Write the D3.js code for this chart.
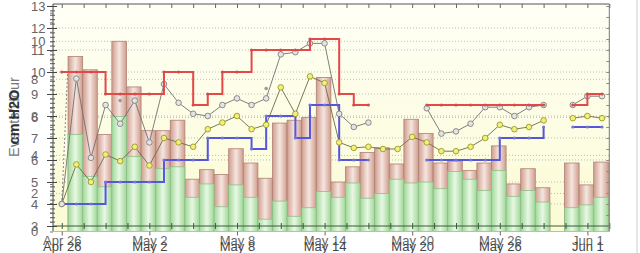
<!DOCTYPE html>
<html><head><meta charset="utf-8">
<script src="https://cdn.jsdelivr.net/npm/d3@7/dist/d3.min.js"></script>
<style>body{margin:0;background:#fff}svg{display:block}</style>
</head><body>
<svg id="c" width="640" height="253"></svg>
<script>
// ---- data (day index 0 = Apr 26) ----
const tickDays   = [0, 6, 12, 18, 24, 30, 36];
const tickLabels = ["Apr 26", "May 2", "May 8", "May 14", "May 20", "May 26", "Jun 1"];

// bars (Events/Hour), days 1..37
const barDays   = [1,2,3,4,5,6,7,8,9,10,11,12,13,14,15,16,17,18,19,20,21,22,23,24,25,26,27,28,29,30,31,32,33,34,35,36,37];
const barTotal  = [9.2,8.5,5.1,10.0,7.6,5.3,5.3,5.85,2.75,3.25,3.0,4.35,3.6,2.8,5.7,5.85,6.0,8.1,2.6,3.4,4.15,4.4,3.55,5.9,5.15,3.6,3.7,3.2,3.6,4.5,2.5,3.3,2.3,null,3.6,2.45,3.65];
const barGreen  = [5.1,2.9,2.35,6.05,3.95,2.6,3.3,3.4,1.8,2.5,1.3,2.45,1.8,0.65,1.6,0.8,1.25,2.1,1.8,2.55,1.75,2.0,2.75,2.55,2.6,2.25,3.15,2.75,2.15,3.2,1.85,2.15,1.55,null,1.25,1.4,1.8];

// lines (cm H2O), days 0..37
const lineDays = d3.range(0, 38);
const redSet   = [10,10,10,9,9,9,9,10,10,8.5,9,10,10,11,11,11,11,11.5,11.5,9,8.5,8.5,null,null,null,8.5,8.5,8.5,8.5,8.5,8.5,8.5,8.5,8.5,null,8.5,9,9];
const blueSet  = [4,4,4,5,5,5,5,6,6,6,7,7,7,6.5,8,8,7,8.5,8.5,6,6,6,null,null,null,6,6,6,6,6,7,7,7,7.5,null,7.5,7.5,7.5];
const grayPt   = [4,9.7,6.1,8.5,7.65,8.7,6.8,9.45,8.6,8.1,8.0,8.5,8.8,8.5,8.8,10.8,10.9,11.3,11.3,8.1,7.5,7.7,null,null,null,8.35,7.2,7.3,7.65,8.4,8.4,8.0,8.4,8.5,null,8.5,8.9,8.9];
const yellowPt = [4,5.8,5.0,6.25,5.95,6.6,5.75,7.0,6.8,6.6,7.4,7.7,8.0,7.4,7.6,9.3,8.1,9.8,9.5,6.8,6.55,6.6,6.5,6.5,7.05,6.8,6.4,6.4,6.6,7.0,7.6,7.4,7.5,7.8,null,7.9,8.0,7.9];
const extraDotDays = [4, 14];
const extraDotVals = [8.7, 9.25];
const rampFrom = [0, 4];     // [day, cmH2O]
const rampTo   = [0.4, 10];

const axisATicks = [3,4,5,6,7,8,9,10,11,12,13];
const axisBTicks = [0,2,4,6,8,10];

// ---- layout ----
const svg = d3.select("#c");
const L = 53, R = 609.3, T = 4, B = 231.5;
const x  = d3.scaleLinear().domain([-0.6, 37.5]).range([L, R]);
const xb = d3.scaleLinear().domain([-0.6, 37.5]).range([L - 1, R - 1]);
const yA = d3.scaleLinear().domain([3, 13.09]).range([226, T]);
const yB = d3.scaleLinear().domain([0, 11.96]).range([B, T]);
const FONT = "Liberation Sans, Arial, sans-serif";

const defs = svg.append("defs");
const bg = defs.append("linearGradient").attr("id","bg").attr("x1",0).attr("y1",0).attr("x2",0).attr("y2",1);
bg.append("stop").attr("offset","0%").attr("stop-color","#fffff6");
bg.append("stop").attr("offset","100%").attr("stop-color","#fbfbd4");
function hgrad(id, edge, mid){
  const g = defs.append("linearGradient").attr("id",id).attr("x1",0).attr("y1",0).attr("x2",1).attr("y2",0);
  g.append("stop").attr("offset","0%").attr("stop-color",edge);
  g.append("stop").attr("offset","50%").attr("stop-color",mid);
  g.append("stop").attr("offset","100%").attr("stop-color",edge);
}
hgrad("pink","#cf9d8e","#f6e6e0");
hgrad("green","#a0d898","#e8f8e4");

svg.append("rect").attr("x",L).attr("y",T).attr("width",R-L).attr("height",B-T).attr("fill","url(#bg)");
svg.append("line").attr("x1",637).attr("x2",637).attr("y1",0).attr("y2",253).attr("stroke","#ccc");

// grid
const grid = svg.append("g").attr("stroke","#bdbdbd").attr("stroke-dasharray","1,2");
axisATicks.filter(v=>v>3 && v<13).forEach(v=>grid.append("line").attr("x1",L).attr("x2",R).attr("y1",yA(v)).attr("y2",yA(v)));
axisBTicks.filter(v=>v>0).forEach(v=>grid.append("line").attr("x1",L).attr("x2",R).attr("y1",yB(v)).attr("y2",yB(v)));

// bars
const bars = barDays.map((d,i)=>({d, t:barTotal[i], g:barGreen[i]})).filter(o=>o.t!=null);
const bw = xb(1)-xb(0);
svg.append("g").selectAll("rect").data(bars).join("rect")
  .attr("x",o=>xb(o.d-0.5)).attr("width",bw).attr("y",o=>yB(o.t)).attr("height",o=>yB(0)-yB(o.t))
  .attr("fill","url(#pink)").attr("stroke","#b08171").attr("stroke-width",0.8);
svg.append("g").selectAll("rect").data(bars).join("rect")
  .attr("x",o=>xb(o.d-0.5)).attr("width",bw).attr("y",o=>yB(o.g)).attr("height",o=>yB(0)-yB(o.g))
  .attr("fill","url(#green)").attr("stroke","#8fbf88").attr("stroke-width",0.8);

// bottom (line chart) axis line at yA(3)
const tick15 = d3.range(0, 37.6, 1.5);
const axL = svg.append("g").attr("transform",`translate(0,${yA(3)})`)
  .call(d3.axisBottom(x).tickValues(tick15).tickSize(3).tickFormat(""));
axL.select(".domain").attr("stroke","#3d5a3d").attr("d",`M${L},0H${R}`);
axL.selectAll(".tick line").attr("stroke","#3d5a3d").attr("y1",-3);
// top axis
const axT = svg.append("g").attr("transform",`translate(0,${T})`)
  .call(d3.axisBottom(x).tickValues(tick15).tickSize(4).tickFormat(""));
axT.select(".domain").attr("stroke","#555").attr("d",`M${L},0H${R}`);
axT.selectAll(".tick line").attr("stroke","#666");

// ramp (dashed) at start
svg.append("line").attr("x1",x(rampFrom[0])).attr("y1",yA(rampFrom[1])).attr("x2",x(rampTo[0])).attr("y2",yA(rampTo[1]))
  .attr("stroke","#888").attr("stroke-dasharray","2,2");

// lines
const pts = arr => lineDays.map((d,i)=>({d, v:arr[i]}));
function stepLine(arr, color, dotColor){
  const p = pts(arr);
  svg.append("path").datum(p).attr("fill","none").attr("stroke",color).attr("stroke-width",2)
    .attr("d", d3.line().defined(o=>o.v!=null).x(o=>x(o.d)).y(o=>yA(o.v)).curve(d3.curveStepAfter));
  svg.append("g").selectAll("circle").data(p.filter(o=>o.v!=null)).join("circle")
    .attr("cx",o=>x(o.d)).attr("cy",o=>yA(o.v)).attr("r",1.6).attr("fill",dotColor);
}
function circLine(arr, lineColor, fill, stroke){
  const p = pts(arr);
  svg.append("path").datum(p).attr("fill","none").attr("stroke",lineColor).attr("stroke-width",0.9)
    .attr("d", d3.line().defined(o=>o.v!=null).x(o=>x(o.d)).y(o=>yA(o.v)));
  svg.append("g").selectAll("circle").data(p.filter(o=>o.v!=null)).join("circle")
    .attr("cx",o=>x(o.d)).attr("cy",o=>yA(o.v)).attr("r",2.8).attr("fill",fill).attr("stroke",stroke).attr("stroke-width",0.9);
}
stepLine(blueSet, "#5555dd", "#7777cc");
circLine(yellowPt, "#6b6b45", "#f2f07a", "#9a9a2a");
circLine(grayPt, "#707070", "#e4e4e4", "#808080");
stepLine(redSet, "#e64848", "#c85050");
svg.append("g").selectAll("circle").data(extraDotDays.map((d,i)=>({d, v:extraDotVals[i]}))).join("circle")
  .attr("cx",o=>x(o.d)).attr("cy",o=>yA(o.v)).attr("r",1.8).attr("fill","#999");

// left axes
const axA = svg.append("g").attr("transform",`translate(${L},0)`)
  .call(d3.axisLeft(yA).tickValues(d3.range(3, 13.01, 0.2)).tickSize(3).tickFormat(""));
axA.select(".domain").attr("d",`M0,${T}V${B}`).attr("stroke","#444");
axA.selectAll(".tick line").attr("stroke","#555").attr("x2",-3).attr("x1",2);
const axAm = svg.append("g").attr("transform",`translate(${L},0)`)
  .call(d3.axisLeft(yA).tickValues(axisATicks).tickSize(6).tickFormat(""));
axAm.select(".domain").remove();
axAm.selectAll(".tick line").attr("stroke","#444").attr("x1",4);
const axB = svg.append("g").attr("transform",`translate(${L},0)`)
  .call(d3.axisLeft(yB).tickValues(d3.range(0, 12, 0.5)).tickSize(3).tickFormat(""));
axB.select(".domain").remove();
axB.selectAll(".tick line").attr("stroke","#777");
// right axis ticks
const axR = svg.append("g").attr("transform",`translate(${R},0)`)
  .call(d3.axisLeft(yA).tickValues(d3.range(3, 13.01, 0.5)).tickSize(3).tickFormat(""));
axR.select(".domain").attr("d",`M0,${T}V${B}`).attr("stroke","#777");
axR.selectAll(".tick line").attr("stroke","#888");

// tick labels
const lab = svg.append("g").attr("font-family",FONT).attr("font-size",13).attr("fill","#666");
lab.selectAll(".la").data(axisATicks).join("text").attr("x",31).attr("y",v=>yA(v)).attr("dy","0.36em").text(v=>v);
lab.selectAll(".lb").data(axisBTicks).join("text").attr("x",31).attr("y",v=>yB(v)).attr("dy","0.36em").text(v=>v);

// x labels (two overlapping sets)
const axX1 = svg.append("g").attr("transform",`translate(0,${B})`)
  .call(d3.axisBottom(x).tickValues(tickDays).tickSize(4).tickFormat((d,i)=>tickLabels[i]));
axX1.select(".domain").attr("stroke","#bbb").attr("d",`M${L},0H${R}`);
axX1.selectAll(".tick line").attr("stroke","#666");
axX1.selectAll("text").attr("font-family",FONT).attr("font-size",13).attr("fill","#666").attr("y",4).attr("dy","0.71em");
const axX2 = svg.append("g").attr("transform",`translate(0,${B+6})`)
  .call(d3.axisBottom(x).tickValues(tickDays).tickSize(0).tickFormat((d,i)=>tickLabels[i]));
axX2.select(".domain").remove();
axX2.selectAll("text").attr("font-family",FONT).attr("font-size",13).attr("fill","#444").attr("y",4).attr("dy","0.71em");

// y titles (overlapping)
const tt = svg.append("g").attr("transform","translate(19,117) rotate(-90)").attr("font-family",FONT).attr("font-size",14.5).attr("text-anchor","middle");
tt.append("text").attr("fill","#777").text("Events/Hour");
tt.append("text").attr("fill","#333").attr("font-weight","bold").text("cm H2O");
</script>
</body></html>
